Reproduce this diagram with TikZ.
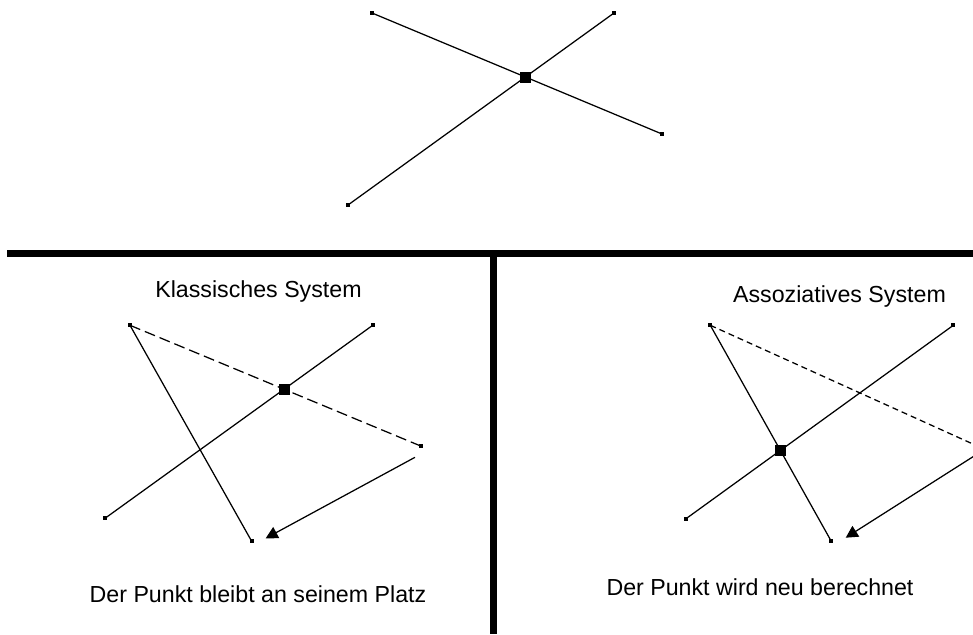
\documentclass[tikz,border=0pt]{standalone}
\usepackage{fontspec}
\setmainfont{Liberation Sans}
\usetikzlibrary{arrows.meta}
\begin{document}
\begin{tikzpicture}[x=1pt,y=-1pt,
  dot/.style={rectangle,fill=black,inner sep=0pt,minimum size=4pt},
  hub/.style={rectangle,fill=black,inner sep=0pt,minimum size=11pt},
  wire/.style={line width=1.25pt},
  bar/.style={line width=7pt},
  lbl/.style={font=\fontsize{23.2}{27}\selectfont,anchor=base,inner sep=0pt},
  dashA/.style={wire,dash pattern=on 11pt off 5pt},
  dashB/.style={wire,dash pattern=on 6pt off 4pt},
  arr/.style={wire,-{Triangle[length=12pt,width=12.5pt]}}]
\useasboundingbox (0,0) rectangle (973,634);
\fill[white] (0,0) rectangle (973,634);

% top figure
\node[dot] (t1) at (372,13) {};
\node[dot] (t2) at (614,13) {};
\node[dot] (t3) at (662,134) {};
\node[dot] (t4) at (348,205) {};
\draw[wire] (t1.center) -- (t3.center);
\draw[wire] (t4.center) -- (t2.center);
\node[hub] (tc) at (525,77) {};

% dividers
\draw[bar] (7,253.5) -- (973,253.5);
\draw[bar] (493,253.5) -- (493,634);

% left panel
\node[lbl] (lt) at (258.5,297) {Klassisches System};
\node[dot] (la) at (130,325.3) {};
\node[dot] (lb) at (372.7,325.3) {};
\node[dot] (lcc) at (420.7,446) {};
\node[dot] (ld) at (105,518.3) {};
\node[dot] (le) at (251.7,541.3) {};
\coordinate (ls) at (415,457.3);
\coordinate (lz) at (265.7,538.3);
\draw[dashA] (la.center) -- (lcc.center);
\draw[wire] (la.center) -- (le.center);
\draw[wire] (ld.center) -- (lb.center);
\node[hub] (lh) at (284,389.7) {};
\draw[arr] (ls) -- (lz);
\node[lbl] (lf) at (258,602) {Der Punkt bleibt an seinem Platz};

% right panel
\node[lbl] (rt) at (839.5,302) {Assoziatives System};
\begin{scope}
\clip (0,0) rectangle (973,634);
\node[dot] (ra) at (710.3,325.3) {};
\node[dot] (rb) at (953.3,325.3) {};
\node[dot] (rcc) at (995,454) {};
\node[dot] (rd) at (686,518.7) {};
\node[dot] (re) at (831.3,541.3) {};
\coordinate (rs) at (993,444);
\coordinate (rz) at (845.7,537.7);
\draw[dashB] (ra.center) -- (rcc.center);
\draw[wire] (ra.center) -- (re.center);
\draw[wire] (rd.center) -- (rb.center);
\node[hub] (rh) at (780.4,450.7) {};
\draw[arr] (rs) -- (rz);
\end{scope}
\node[lbl] (rf) at (760,595) {Der Punkt wird neu berechnet};
\end{tikzpicture}
\end{document}
